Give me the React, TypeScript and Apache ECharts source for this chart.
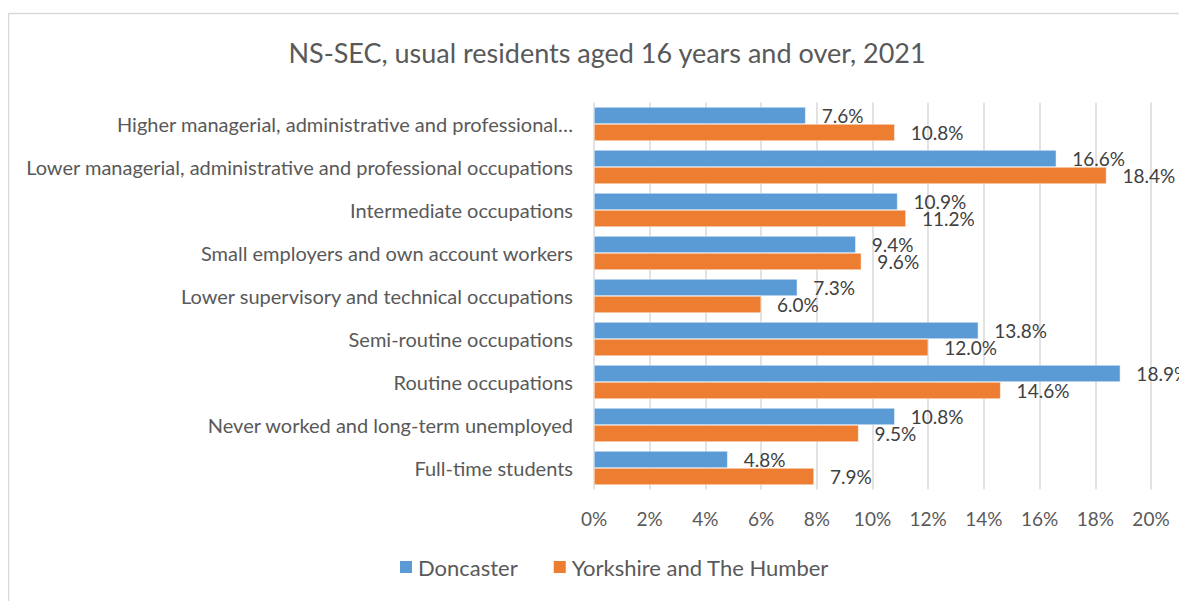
import React, { useEffect, useRef } from "react";
import * as echarts from "echarts";

const categories: string[] = [
  "Higher managerial, administrative and professional…",
  "Lower managerial, administrative and professional occupations",
  "Intermediate occupations",
  "Small employers and own account workers",
  "Lower supervisory and technical occupations",
  "Semi-routine occupations",
  "Routine occupations",
  "Never worked and long-term unemployed",
  "Full-time students",
];

const doncaster: number[] = [7.6, 16.6, 10.9, 9.4, 7.3, 13.8, 18.9, 10.8, 4.8];
const yorkshire: number[] = [10.8, 18.4, 11.2, 9.6, 6.0, 12.0, 14.6, 9.5, 7.9];

const seriesNames: string[] = ["Doncaster", "Yorkshire and The Humber"];
const title = "NS-SEC, usual residents aged 16 years and over, 2021";

const FONT = "Lato, 'Open Sans', sans-serif";
const TEXT = "#595959";

export default function App() {
  const ref = useRef<HTMLDivElement>(null);
  useEffect(() => {
    if (!ref.current) return;
    const chart = echarts.init(ref.current, undefined, { renderer: "svg" });
    const labelCfg = {
      show: true,
      position: "right" as const,
      distance: 16,
      color: "#404040",
      fontSize: 19,
      fontFamily: FONT,
      formatter: (p: any) => `${Number(p.value).toFixed(1)}%`,
    };
    chart.setOption({
      animation: false,
      backgroundColor: "#ffffff",
      title: {
        text: title,
        left: 594,
        top: 26,
        textAlign: "center",
        textStyle: { fontFamily: FONT, fontSize: 27, fontWeight: "normal", color: TEXT },
      },
      graphic: [
        {
          type: "rect",
          shape: { x: 0.5, y: 5.5, width: 1400, height: 800 },
          style: { fill: "none", stroke: "#d9d9d9", lineWidth: 1.5 },
          silent: true,
          z: 0,
        },
      ],
      legend: {
        data: seriesNames,
        bottom: 18,
        left: 385,
        itemWidth: 14,
        itemHeight: 14,
        itemGap: 34,
        icon: "rect",
        textStyle: { fontFamily: FONT, fontSize: 22, color: TEXT },
      },
      grid: { left: 586, right: 57, top: 94.5, bottom: 111.5, containLabel: false },
      xAxis: {
        type: "value",
        min: 0,
        max: 20,
        interval: 2,
        axisLine: { show: false },
        axisTick: { show: false },
        axisLabel: {
          formatter: (v: number) => `${v}%`,
          fontFamily: FONT,
          fontSize: 19,
          color: TEXT,
          margin: 19,
        },
        splitLine: { show: true, lineStyle: { color: "#d9d9d9", width: 1.5 } },
      },
      yAxis: {
        type: "category",
        data: categories,
        inverse: true,
        axisLine: { show: false },
        axisTick: { show: false },
        axisLabel: { fontFamily: FONT, fontSize: 20, color: TEXT, margin: 21 },
      },
      series: [
        {
          name: seriesNames[0],
          type: "bar",
          data: doncaster,
          barWidth: 17,
          barGap: "0%",
          itemStyle: { color: "#5B9BD5", borderColor: "#ffffff", borderWidth: 0.5 },
          label: labelCfg,
        },
        {
          name: seriesNames[1],
          type: "bar",
          data: yorkshire,
          barWidth: 17,
          barGap: "0%",
          itemStyle: { color: "#ED7D31", borderColor: "#ffffff", borderWidth: 0.5 },
          label: labelCfg,
        },
      ],
    });
    return () => chart.dispose();
  }, []);
  return (
    <div style={{ width: 1179, height: 593, overflow: "hidden" }}>
      <div ref={ref} style={{ width: 1200, height: 593 }} />
    </div>
  );
}
